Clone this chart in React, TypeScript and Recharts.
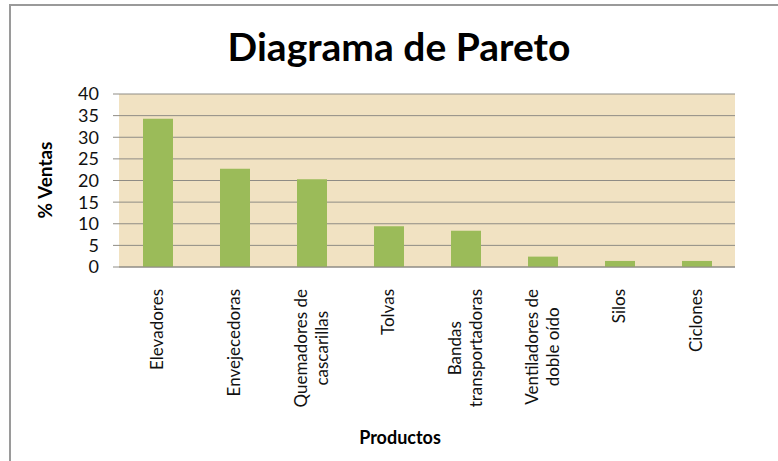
import React from 'react';
import { BarChart, Bar, XAxis, YAxis, CartesianGrid } from 'recharts';

// productos y % de ventas
const productos = [
  'Elevadores',
  'Envejecedoras',
  'Quemadores de cascarillas',
  'Tolvas',
  'Bandas transportadoras',
  'Ventiladores de doble oído',
  'Silos',
  'Ciclones',
];
const lineasEtiqueta = [
  ['Elevadores'],
  ['Envejecedoras'],
  ['Quemadores de', 'cascarillas'],
  ['Tolvas'],
  ['Bandas', 'transportadoras'],
  ['Ventiladores de', 'doble oído'],
  ['Silos'],
  ['Ciclones'],
];
const ventas = [34.3, 22.7, 20.3, 9.4, 8.4, 2.4, 1.4, 1.4];
const yTicks = [0, 5, 10, 15, 20, 25, 30, 35, 40];

const FONT = 'Lato, "Open Sans", sans-serif';
const LABEL_SIZE = 17;

const data = productos.map((p, i) => ({ producto: p, ventas: ventas[i] }));

let ctx: CanvasRenderingContext2D | null = null;
const medir = (txt: string) => {
  if (!ctx) ctx = document.createElement('canvas').getContext('2d');
  if (!ctx) return txt.length * 8.5;
  ctx.font = `${LABEL_SIZE}px Lato`;
  return ctx.measureText(txt).width;
};

const TickProducto = (props: any) => {
  const { x, y, payload } = props;
  const idx = productos.indexOf(payload.value);
  const lineas = lineasEtiqueta[idx] || [payload.value];
  const top = y + 22;
  const lh = 21;
  const n = lineas.length;
  if (n === 1) {
    return (
      <g transform={`translate(${x},${top}) rotate(-90)`}>
        <text x={0} y={0} dy="0.35em" textAnchor="end" fontFamily={FONT} fontSize={LABEL_SIZE} fill="#111">
          {lineas[0]}
        </text>
      </g>
    );
  }
  const ancho = Math.max(...lineas.map(medir));
  return (
    <g transform={`translate(${x},${top}) rotate(-90)`}>
      {lineas.map((l, i) => (
        <text
          key={i}
          x={-ancho / 2}
          y={(i - (n - 1) / 2) * lh}
          dy="0.35em"
          textAnchor="middle"
          fontFamily={FONT}
          fontSize={LABEL_SIZE}
          fill="#111"
        >
          {l}
        </text>
      ))}
    </g>
  );
};

export default function App() {
  return (
    <div style={{ position: 'absolute', left: 0, top: 0, width: 778, height: 461, background: 'white', overflow: 'hidden' }}>
      <div
        style={{
          position: 'absolute',
          left: 9,
          top: 4,
          width: 800,
          height: 500,
          borderLeft: '2px solid #9a9a9a',
          borderTop: '2px solid #9a9a9a',
        }}
      />
      <div
        style={{
          position: 'absolute',
          left: 0,
          top: 27,
          width: 798,
          textAlign: 'center',
          fontFamily: FONT,
          fontWeight: 700,
          fontSize: 39,
          lineHeight: '39px',
          color: '#000',
        }}
      >
        Diagrama de Pareto
      </div>
      <div
        style={{
          position: 'absolute',
          left: 44,
          top: 180,
          transform: 'translate(-50%, -50%) rotate(-90deg)',
          fontFamily: FONT,
          fontWeight: 700,
          fontSize: 19,
          whiteSpace: 'nowrap',
          color: '#000',
        }}
      >
        % Ventas
      </div>
      <div
        style={{
          position: 'absolute',
          left: 400,
          top: 437,
          transform: 'translate(-50%, -50%)',
          fontFamily: FONT,
          fontWeight: 700,
          fontSize: 18,
          whiteSpace: 'nowrap',
          color: '#000',
        }}
      >
        Productos
      </div>
      <div style={{ position: 'absolute', left: 0, top: 0 }}>
        <BarChart
          width={778}
          height={461}
          data={data}
          margin={{ top: 94, right: 43, bottom: 0, left: 0 }}
          barSize={30}
        >
          <CartesianGrid vertical={false} stroke="#8f8c85" fill="#f1e2c2" fillOpacity={1} />
          <XAxis
            dataKey="producto"
            interval={0}
            height={194}
            tickLine={false}
            tickSize={0}
            tickMargin={0}
            axisLine={{ stroke: '#8f8c85' }}
            tick={<TickProducto />}
          />
          <YAxis
            width={119}
            domain={[0, 40]}
            ticks={yTicks}
            interval={0}
            axisLine={false}
            tickLine={{ stroke: '#8f8c85' }}
            tickSize={6}
            tickMargin={14}
            tick={{ fontSize: 18, fill: '#111', fontFamily: FONT }}
          />
          <Bar dataKey="ventas" fill="#9bbb59" isAnimationActive={false} />
        </BarChart>
      </div>
    </div>
  );
}
